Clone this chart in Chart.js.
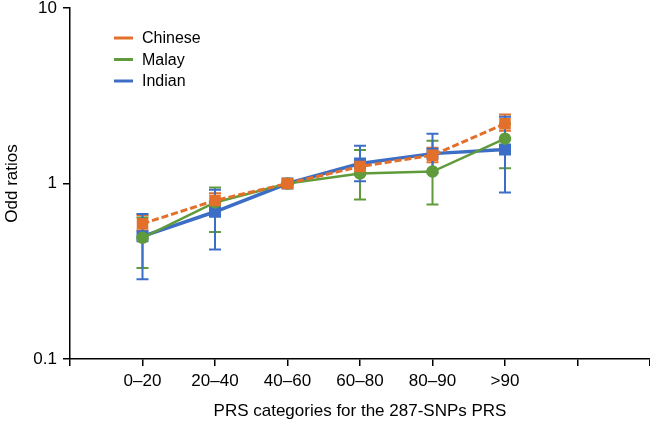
<!DOCTYPE html>
<html><head><meta charset="utf-8">
<script src="https://cdn.jsdelivr.net/npm/chart.js@4/dist/chart.umd.min.js"></script>
<style>html,body{margin:0;padding:0;background:#fff}#w{width:650px;height:422px}</style>
</head><body><div id="w"><canvas id="c" width="650" height="422"></canvas></div>
<script>
const categories = ["0\u201320","20\u201340","40\u201360","60\u201380","80\u201390",">90"];
const yTickValues = [0.1, 1, 10];
const seriesNames = ["Chinese","Malay","Indian"];
const chineseOR = [0.59, 0.80, 1.0, 1.25, 1.45, 2.19];
const chineseLow = [0.54, 0.72, 1.0, 1.12, 1.32, 2.00];
const chineseHigh = [0.66, 0.88, 1.0, 1.38, 1.60, 2.47];
const malayOR = [0.49, 0.78, 1.0, 1.14, 1.17, 1.80];
const malayLow = [0.33, 0.53, 1.0, 0.81, 0.76, 1.22];
const malayHigh = [0.64, 0.95, 1.0, 1.55, 1.75, 2.20];
const indianOR = [0.50, 0.69, 1.0, 1.30, 1.48, 1.56];
const indianLow = [0.285, 0.42, 1.0, 1.03, 1.15, 0.89];
const indianHigh = [0.67, 0.92, 1.0, 1.64, 1.92, 2.40];

const colors = ["#E2702B", "#5F9B3A", "#3C6EC6"];
const FONT = '"Liberation Sans", Arial, sans-serif';
const toPts = arr => arr.map((v,i)=>({x:i+1, y:v}));
const errs = [[chineseLow,chineseHigh],[malayLow,malayHigh],[indianLow,indianHigh]];

const errorBars = {
  id:'errorBars',
  beforeDatasetsDraw(chart){
    const {ctx, scales:{x,y}} = chart;
    ctx.save();
    chart.data.datasets.forEach((ds,di)=>{
      const [lo,hi] = errs[di];
      ctx.strokeStyle = colors[di];
      ctx.lineWidth = 2;
      ds.data.forEach((p,i)=>{
        const px = x.getPixelForValue(p.x);
        const yl = y.getPixelForValue(lo[i]);
        const yh = y.getPixelForValue(hi[i]);
        ctx.beginPath();
        ctx.moveTo(px,yl); ctx.lineTo(px,yh);
        ctx.moveTo(px-6,yl); ctx.lineTo(px+6,yl);
        ctx.moveTo(px-6,yh); ctx.lineTo(px+6,yh);
        ctx.stroke();
      });
    });
    ctx.restore();
  }
};
const legendPlugin = {
  id:'insideLegend',
  afterDraw(chart){
    const {ctx} = chart;
    ctx.save();
    ctx.font = '16px ' + FONT;
    ctx.textBaseline = 'middle';
    seriesNames.forEach((n,i)=>{
      const yy = 38 + i*21.5;
      ctx.strokeStyle = colors[i];
      ctx.lineWidth = 3;
      ctx.beginPath(); ctx.moveTo(114,yy); ctx.lineTo(133,yy); ctx.stroke();
      ctx.fillStyle = '#000';
      ctx.fillText(n, 142, yy + 1);
    });
    ctx.restore();
  }
};

new Chart(document.getElementById('c'), {
  type:'line',
  data:{datasets:[
    {label:seriesNames[0], data:toPts(chineseOR), borderColor:colors[0], backgroundColor:colors[0], borderWidth:3, borderDash:[7,3], pointStyle:'rect', pointRadius:6, pointHoverRadius:6},
    {label:seriesNames[1], data:toPts(malayOR), borderColor:colors[1], backgroundColor:colors[1], borderWidth:2.5, pointStyle:'circle', pointRadius:5, pointHoverRadius:5},
    {label:seriesNames[2], data:toPts(indianOR), borderColor:colors[2], backgroundColor:colors[2], borderWidth:3.5, pointStyle:'rect', pointRadius:6, pointHoverRadius:6}
  ]},
  options:{
    responsive:false, animation:false,
    layout:{autoPadding:false, padding:{top:0,right:0,left:0,bottom:0}},
    plugins:{legend:{display:false}, tooltip:{enabled:false}},
    scales:{
      x:{type:'linear', min:0, max:8,
        afterBuildTicks(s){ s.ticks=[0,1,2,3,4,5,6,7,8].map(v=>({value:v})); },
        afterFit(s){ s.height = 63; s.paddingRight = 0; s.paddingLeft = 0; },
        ticks:{color:'#000', font:{size:17, family:FONT}, padding:5, maxRotation:0,
          callback:(v)=> (v>=1 && v<=6) ? categories[v-1] : ''},
        grid:{drawOnChartArea:false, drawTicks:true, tickLength:7, color:'#000', lineWidth:1.5},
        border:{color:'#000', width:1.5},
        title:{display:true, text:'PRS categories for the 287-SNPs PRS', color:'#000', font:{size:17, family:FONT}, padding:{top:4,bottom:0}}
      },
      y:{type:'logarithmic', min:0.1, max:10,
        afterBuildTicks(s){ s.ticks = yTickValues.map(v=>({value:v})); },
        afterFit(s){ s.width = 70; s.paddingTop = 8; s.paddingBottom = 0; },
        ticks:{color:'#000', font:{size:17, family:FONT}, padding:6,
          callback:(v)=> String(v)},
        grid:{drawOnChartArea:false, drawTicks:true, tickLength:7, color:'#000', lineWidth:1.5},
        border:{color:'#000', width:1.5},
        title:{display:true, text:'Odd ratios', color:'#000', font:{size:17, family:FONT}, padding:{top:2,bottom:0}}
      }
    }
  },
  plugins:[errorBars, legendPlugin]
});
</script></body></html>
